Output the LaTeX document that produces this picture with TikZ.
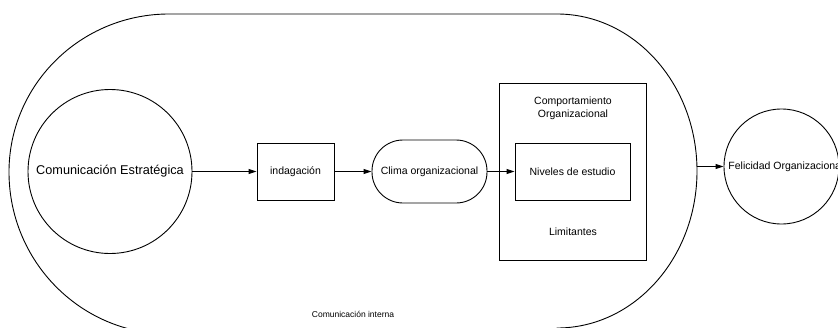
\documentclass[tikz,border=0pt]{standalone}
\usepackage{fontspec}
\setmainfont{Liberation Sans}
\usetikzlibrary{arrows.meta}
\begin{document}
\begin{tikzpicture}[x=1pt,y=-1pt,
  line width=0.9pt,
  lbl/.style={font=\fontsize{10.5}{13}\selectfont, align=center, inner sep=0pt},
  boxnode/.style={draw, rectangle, inner sep=0pt},
  arr/.style={-{Triangle[length=8pt,width=5pt]}},
]
\useasboundingbox (0,0) rectangle (838,327);
\clip (0,0) rectangle (838,327);
% outer stadium (Comunicacion interna); its bottom edge lies below the picture
\draw (169,14) -- (557,14)
  arc[start angle=-90,end angle=90,x radius=140,y radius=157]
  -- (557,345) -- (169,345) -- (169,334)
  arc[start angle=90,end angle=180,x radius=160,y radius=162]
  arc[start angle=180,end angle=270,x radius=160,y radius=158] -- cycle;
\node[font=\fontsize{8.5}{10}\selectfont] (ci) at (353,314) {Comunicación interna};
% nodes
\node[circle, draw, minimum size=164pt, inner sep=0pt, font=\fontsize{12.7}{15}\selectfont] (ce) at (110,171.5) {Comunicación Estratégica};
\node[boxnode, minimum width=77pt, minimum height=57pt, lbl] (ind) at (295.5,171.5) {indagación};
\node[draw, rounded corners=31pt, minimum width=115pt, minimum height=63pt, lbl] (cl) at (429.5,171.5) {Clima organizacional};
\node[boxnode, minimum width=147pt, minimum height=177pt] (co) at (572.5,171.5) {};
\node[lbl] (cot) at (573,108.5) {Comportamiento\\Organizacional};
\node[boxnode, minimum width=115pt, minimum height=57pt, lbl] (nv) at (572.5,171.5) {Niveles de estudio};
\node[lbl] (lim) at (573,232) {Limitantes};
\node[circle, draw, minimum size=115pt, inner sep=0pt] (fe) at (781.5,166.5) {};
\node[lbl, anchor=west] (fet) at (728,166.5) {Felicidad Organizacional};
\coordinate (st) at (697,166.5);
% connectors
\draw[arr] (ce.east) -- (ind.west);
\draw[arr] (ind.east) -- (cl.west);
\draw[arr] (cl.east) -- (nv.west);
\draw[arr] (st) -- (fe.west);
\end{tikzpicture}
\end{document}
